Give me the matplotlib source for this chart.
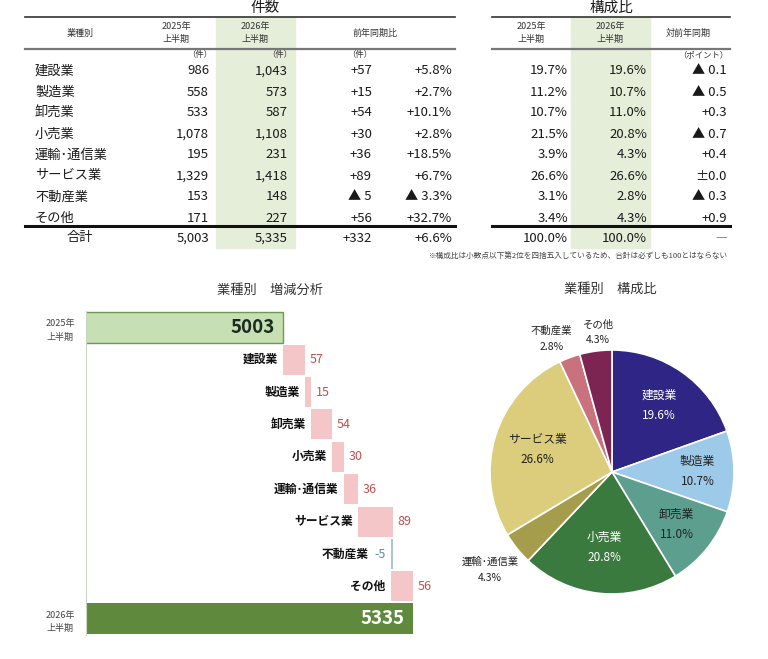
import numpy as np
import matplotlib
matplotlib.use('Agg')
import matplotlib.pyplot as plt

plt.rcParams['font.family'] = ['Noto Sans CJK JP', 'DejaVu Sans']

# --- データ ---
gyoshu = ['建設業', '製造業', '卸売業', '小売業', '運輸･通信業', 'サービス業', '不動産業', 'その他']
ken_2025 = [986, 558, 533, 1078, 195, 1329, 153, 171]
ken_2026 = [1043, 573, 587, 1108, 231, 1418, 148, 227]
hi_2025 = [19.7, 11.2, 10.7, 21.5, 3.9, 26.6, 3.1, 3.4]
hi_2026 = [19.6, 10.7, 11.0, 20.8, 4.3, 26.6, 2.8, 4.3]
kikan = ['2025年\n上半期', '2026年\n上半期']

pie_colors = ['#2e2584', '#9ecae9', '#5c9f8f', '#3b7a3e', '#a59d4c', '#dccd7c', '#c9717c', '#7c2452']
pie_txt = ['white', '#222222', '#222222', 'white', '#222222', '#222222', '#222222', '#222222']
pie_dist = [0.67, 0.70, 0.68, 0.62, 1.28, 0.64, 1.20, 1.15]
pie_dang = [0, 0, 0, 0, 0, 0, 4, -2]

W, H = 768, 659
TXT = '#1a1a1a'


def fmt_diff(v):
    if v > 0:
        return f'+{v:,}'
    if v < 0:
        return f'▲ {-v:,}'
    return '±0'


def fmt_pct(v):
    if v >= 0:
        return f'+{v:.1f}%'
    return f'▲ {-v:.1f}%'


def fmt_pt(v):
    if abs(v) < 0.05:
        return '±0.0'
    if v > 0:
        return f'+{v:.1f}'
    return f'▲ {-v:.1f}'


fig = plt.figure(figsize=(W / 100, H / 100), dpi=100)
fig.patch.set_facecolor('white')

# --- 表 (ピクセル座標) ---
ax = fig.add_axes([0, 0, 1, 1])
ax.set_xlim(0, W)
ax.set_ylim(H, 0)
ax.axis('off')

# 網掛け (2026年列)
ax.add_patch(plt.Rectangle((216, 17), 79, 231, color='#e4eed9', zorder=0))
ax.add_patch(plt.Rectangle((571, 17), 79, 231, color='#e4eed9', zorder=0))

# タイトル
ax.text(265, 8, '件数', ha='center', va='center', fontsize=10.5, color=TXT)
ax.text(611, 8, '構成比', ha='center', va='center', fontsize=10.5, color=TXT)

# 罫線
ax.plot([25, 455], [17, 17], color='#333333', lw=1.2)
ax.plot([492, 730], [17, 17], color='#333333', lw=1.2)
ax.plot([25, 455], [49, 49], color='#777777', lw=1.6)
ax.plot([492, 730], [49, 49], color='#777777', lw=1.6)
ax.plot([25, 455], [226, 226], color='#111111', lw=2.2)
ax.plot([492, 730], [226, 226], color='#111111', lw=2.2)

# ヘッダ
hs = 6.5
ax.text(80, 33, '業種別', ha='center', va='center', fontsize=hs, color='#333')
ax.text(176, 33, '2025年\n上半期', ha='center', va='center', fontsize=hs, color='#333', linespacing=1.5)
ax.text(255, 33, '2026年\n上半期', ha='center', va='center', fontsize=hs, color='#333', linespacing=1.5)
ax.text(375, 33, '前年同期比', ha='center', va='center', fontsize=hs, color='#333')
ax.text(531, 33, '2025年\n上半期', ha='center', va='center', fontsize=hs, color='#333', linespacing=1.5)
ax.text(610, 33, '2026年\n上半期', ha='center', va='center', fontsize=hs, color='#333', linespacing=1.5)
ax.text(688, 33, '対前年同期', ha='center', va='center', fontsize=hs, color='#333')
for ux in [200, 280, 360]:
    ax.text(ux, 55, '（件）', ha='center', va='center', fontsize=6, color='#333')
ax.text(703, 55, '（ポイント）', ha='center', va='center', fontsize=6, color='#333')

# 本体
fs = 9.5
for i, name in enumerate(gyoshu):
    y = 71 + 21 * i
    a, b = ken_2025[i], ken_2026[i]
    ax.text(35, y, name, ha='left', va='center', fontsize=fs, color=TXT)
    ax.text(209, y, f'{a:,}', ha='right', va='center', fontsize=fs, color=TXT)
    ax.text(288, y, f'{b:,}', ha='right', va='center', fontsize=fs, color=TXT)
    ax.text(372, y, fmt_diff(b - a), ha='right', va='center', fontsize=fs, color=TXT)
    ax.text(452, y, fmt_pct((b - a) / a * 100), ha='right', va='center', fontsize=fs, color=TXT)
    ax.text(568, y, f'{hi_2025[i]:.1f}%', ha='right', va='center', fontsize=fs, color=TXT)
    ax.text(647, y, f'{hi_2026[i]:.1f}%', ha='right', va='center', fontsize=fs, color=TXT)
    ax.text(727, y, fmt_pt(round(hi_2026[i] - hi_2025[i], 1)), ha='right', va='center', fontsize=fs, color=TXT)

goukei25 = sum(ken_2025)
goukei26 = sum(ken_2026)
y = 238
ax.text(80, y, '合計', ha='center', va='center', fontsize=fs, color=TXT)
ax.text(209, y, f'{goukei25:,}', ha='right', va='center', fontsize=fs, color=TXT)
ax.text(288, y, f'{goukei26:,}', ha='right', va='center', fontsize=fs, color=TXT)
ax.text(372, y, fmt_diff(goukei26 - goukei25), ha='right', va='center', fontsize=fs, color=TXT)
ax.text(452, y, fmt_pct((goukei26 - goukei25) / goukei25 * 100), ha='right', va='center', fontsize=fs, color=TXT)
ax.text(568, y, '100.0%', ha='right', va='center', fontsize=fs, color=TXT)
ax.text(647, y, '100.0%', ha='right', va='center', fontsize=fs, color=TXT)
ax.text(727, y, '—', ha='right', va='center', fontsize=fs, color='#888')

ax.text(728, 256, '※構成比は小数点以下第2位を四捨五入しているため、合計は必ずしも100とはならない',
        ha='right', va='center', fontsize=5.5, color='#444')

# 下段タイトル
ax.text(270, 290, '業種別　増減分析', ha='center', va='center', fontsize=9.5, color='#333')
ax.text(610, 289, '業種別　構成比', ha='center', va='center', fontsize=9.5, color='#333')

# --- 増減分析 (ウォーターフォール) ---
ax2 = fig.add_axes([86 / W, 1 - 635 / H, 352 / W, 324 / H])
ax2.set_facecolor('none')
n = len(gyoshu)
zou = [b - a for a, b in zip(ken_2025, ken_2026)]

ax2.barh(0, goukei25, height=0.95, color='#c6e0b4', edgecolor='#6f9a54', linewidth=1)
ax2.annotate(f'{goukei25}', (goukei25, 0), xytext=(-8, 0), textcoords='offset pixels',
             ha='right', va='center', fontsize=13.5, fontweight='bold', color='#1f2a1f')

cum = goukei25
for i, d in enumerate(zou):
    yy = i + 1
    start = cum
    end = cum + d
    if d >= 0:
        ax2.barh(yy, d, left=start, height=0.93, color='#f4c6c8')
        ax2.annotate(gyoshu[i], (start, yy), xytext=(-5, 0), textcoords='offset pixels',
                     ha='right', va='center', fontsize=8.5, fontweight='bold', color='#111')
        ax2.annotate(f'{d}', (end, yy), xytext=(5, 0), textcoords='offset pixels',
                     ha='left', va='center', fontsize=9, color='#c0504d')
    else:
        ax2.barh(yy, d, left=start, height=0.93, color='#a9c4dc')
        ax2.annotate(f'{d}', (end, yy), xytext=(-5, 0), textcoords='offset pixels',
                     ha='right', va='center', fontsize=9, color='#6585a8')
        ax2.annotate(gyoshu[i], (end, yy), xytext=(-22, 0), textcoords='offset pixels',
                     ha='right', va='center', fontsize=8.5, fontweight='bold', color='#111')
    cum = end

ax2.barh(n + 1, goukei26, height=0.95, color='#5f8a3d')
ax2.annotate(f'{goukei26}', (goukei26, n + 1), xytext=(-8, 0), textcoords='offset pixels',
             ha='right', va='center', fontsize=13.5, fontweight='bold', color='white')

ax2.set_xlim(4500, 5400)
ax2.set_ylim(n + 1.5, -0.5)
for s in ['top', 'right', 'bottom']:
    ax2.spines[s].set_visible(False)
ax2.spines['left'].set_color('#c9d6c0')
ax2.set_xticks([])
ax2.set_yticks([0, n + 1])
ax2.set_yticklabels(kikan)
ax2.tick_params(axis='y', length=0, pad=8, labelsize=6.5, labelcolor='#444')
for lbl in ax2.get_yticklabels():
    lbl.set_multialignment('center')
    lbl.set_linespacing(1.6)

# --- 構成比 (円グラフ) ---
ax3 = fig.add_axes([453.4 / W, 1 - 630.6 / H, 317.2 / W, 317.2 / H])
wedges, _ = ax3.pie(ken_2026, colors=pie_colors, startangle=90, counterclock=False,
                    wedgeprops=dict(edgecolor='white', linewidth=1.2))
ax3.set_xlim(-1.3, 1.3)
ax3.set_ylim(-1.3, 1.3)
ax3.set_aspect('equal')
for w, name, share, r, da, col in zip(wedges, gyoshu, hi_2026, pie_dist, pie_dang, pie_txt):
    ang = np.deg2rad((w.theta1 + w.theta2) / 2 + da)
    fsz = 8.5 if r < 1 else 7.5
    ax3.text(r * np.cos(ang), r * np.sin(ang), f'{name}\n{share:.1f}%', ha='center', va='center',
             color=col, fontsize=fsz, linespacing=1.7)

fig.savefig('out.png', dpi=100)
